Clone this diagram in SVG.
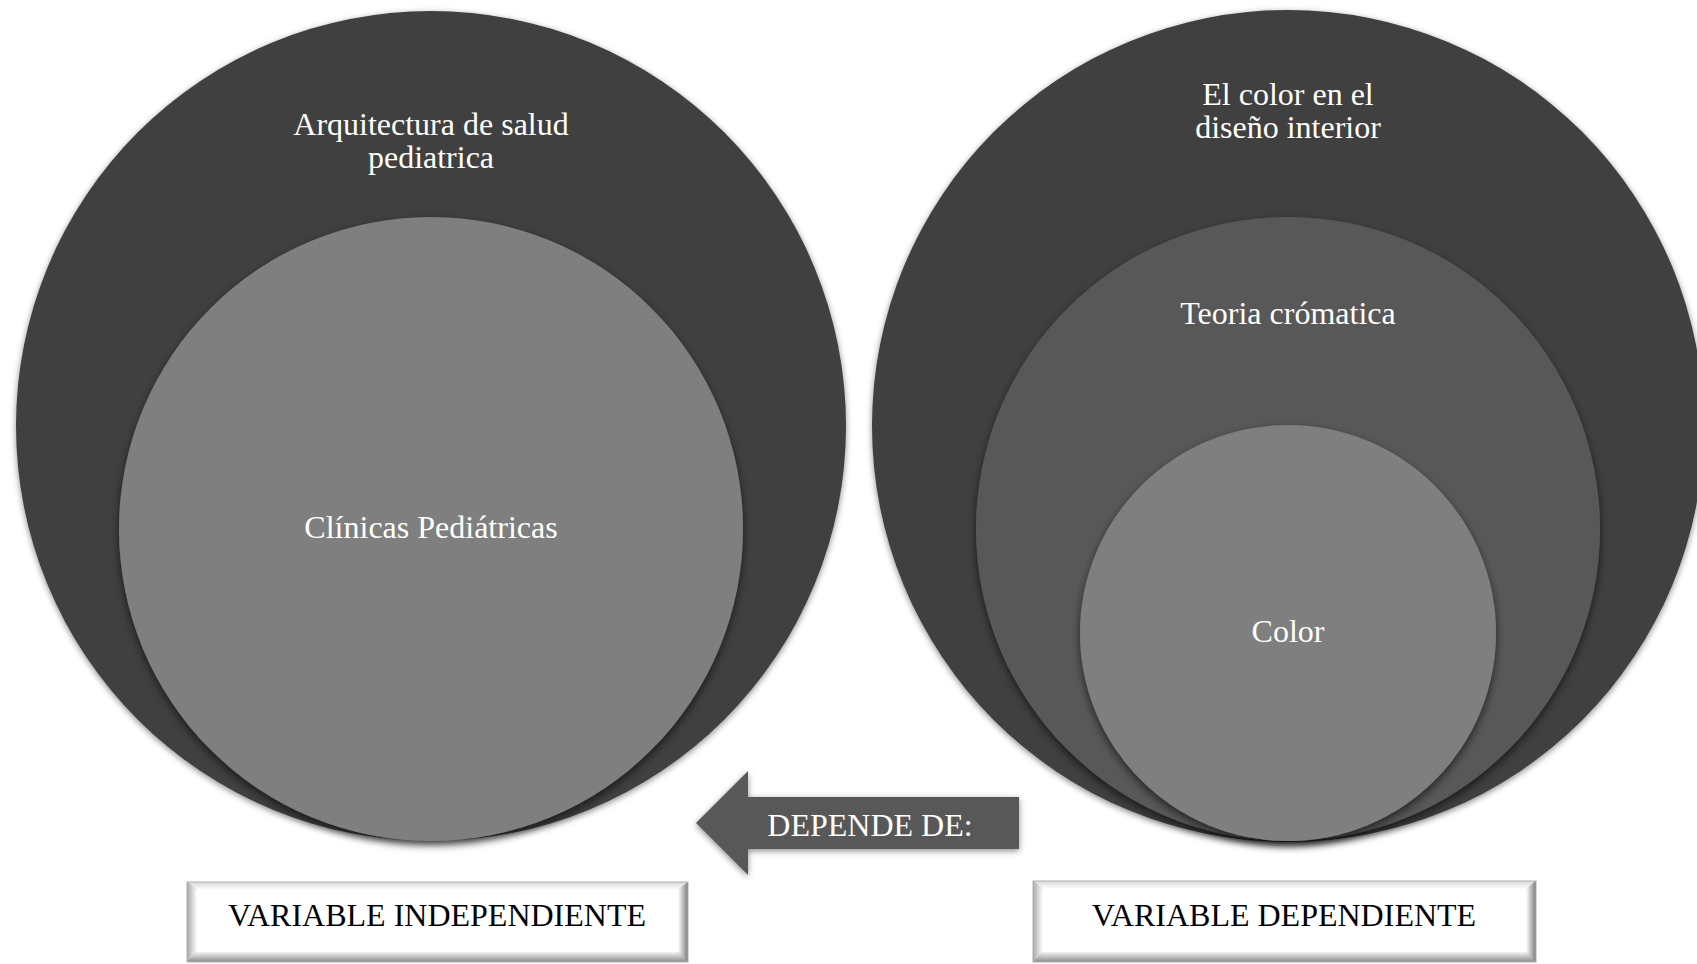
<svg xmlns="http://www.w3.org/2000/svg" width="1697" height="964" viewBox="0 0 1697 964">
<defs>
<style>
.t{font-family:"Liberation Serif","Times New Roman",serif;font-size:32px;fill:#ffffff;text-anchor:middle}
.tb{font-family:"Liberation Serif","Times New Roman",serif;font-size:32px;fill:#000000;text-anchor:middle}
.c1{fill:#404040;filter:url(#sh)}
.c2{fill:#595959;filter:url(#sh2)}
.c3{fill:#7f7f7f;filter:url(#sh2)}
</style>
<filter id="sh" x="-10%" y="-10%" width="120%" height="120%">
<feDropShadow dx="0" dy="2" stdDeviation="3" flood-color="#000" flood-opacity="0.45"/>
</filter>
<filter id="sh2" x="-10%" y="-10%" width="120%" height="120%">
<feDropShadow dx="0" dy="4" stdDeviation="4" flood-color="#000" flood-opacity="0.6"/>
</filter>
<linearGradient id="gl" x1="0" y1="0" x2="1" y2="0"><stop offset="0" stop-color="#a8a8a8"/><stop offset="1" stop-color="#ffffff"/></linearGradient>
<linearGradient id="gr" x1="0" y1="0" x2="1" y2="0"><stop offset="0" stop-color="#ffffff"/><stop offset="1" stop-color="#7a7a7a"/></linearGradient>
<linearGradient id="gt" x1="0" y1="0" x2="0" y2="1"><stop offset="0" stop-color="#d8d8d8"/><stop offset="1" stop-color="#ffffff"/></linearGradient>
<linearGradient id="gb" x1="0" y1="0" x2="0" y2="1"><stop offset="0" stop-color="#f4f4f4"/><stop offset="1" stop-color="#8a8a8a"/></linearGradient>
</defs>
<rect width="1697" height="964" fill="#ffffff"/>

<g id="left-outer">
<circle class="c1" cx="431" cy="426" r="415"/>
<text class="t" x="431" y="135">Arquitectura de salud</text>
<text class="t" x="431" y="168">pediatrica</text>
</g>
<g id="left-inner">
<circle class="c3" cx="431" cy="529" r="312"/>
<text class="t" x="431" y="538">Clínicas Pediátricas</text>
</g>

<g id="right-outer">
<circle class="c1" cx="1288" cy="426" r="416"/>
<text class="t" x="1288" y="105">El color en el</text>
<text class="t" x="1288" y="138">diseño interior</text>
</g>
<g id="right-middle">
<circle class="c2" cx="1288" cy="529" r="312"/>
<text class="t" x="1288" y="324">Teoria crómatica</text>
</g>
<g id="right-inner">
<circle class="c3" cx="1288" cy="633" r="208"/>
<text class="t" x="1288" y="642">Color</text>
</g>

<g id="connectors">
<g id="arrow">
<polygon points="696,823 748,771 748,797 1019,797 1019,849 748,849 748,875" fill="#595959" filter="url(#sh)"/>
<text class="t" x="870" y="836">DEPENDE DE:</text>
</g>
</g>

<g id="box-independiente">
<rect x="187" y="882" width="501" height="80" fill="#9a9a9a"/>
<polygon points="187,882 688,882 678,890 197,890" fill="url(#gt)"/>
<polygon points="187,882 197,890 197,952 187,962" fill="url(#gl)"/>
<polygon points="688,882 678,890 678,952 688,962" fill="url(#gr)"/>
<polygon points="187,962 197,952 678,952 688,962" fill="url(#gb)"/>
<rect x="197" y="890" width="481" height="62" fill="#ffffff"/>
<rect x="187" y="882" width="501" height="80" fill="none" stroke="#b0b0b0" stroke-width="1"/>
<text class="tb" x="437" y="926">VARIABLE INDEPENDIENTE</text>
</g>

<g id="box-dependiente">
<rect x="1033" y="881" width="503" height="81" fill="#9a9a9a"/>
<polygon points="1033,881 1536,881 1526,889 1043,889" fill="url(#gt)"/>
<polygon points="1033,881 1043,889 1043,952 1033,962" fill="url(#gl)"/>
<polygon points="1536,881 1526,889 1526,952 1536,962" fill="url(#gr)"/>
<polygon points="1033,962 1043,952 1526,952 1536,962" fill="url(#gb)"/>
<rect x="1043" y="889" width="483" height="63" fill="#ffffff"/>
<rect x="1033" y="881" width="503" height="81" fill="none" stroke="#b0b0b0" stroke-width="1"/>
<text class="tb" x="1284" y="926">VARIABLE DEPENDIENTE</text>
</g>
</svg>
